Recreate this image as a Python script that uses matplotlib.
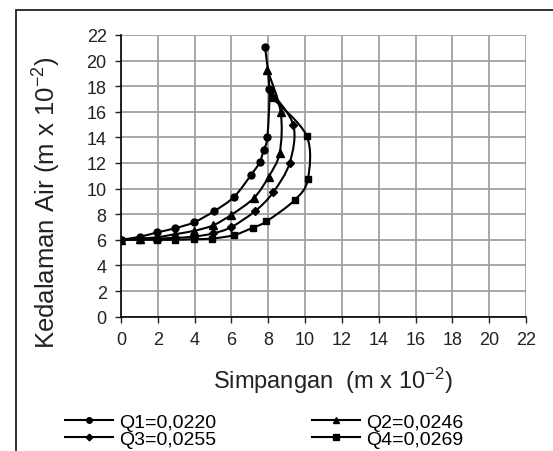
import matplotlib
matplotlib.use("Agg")
import matplotlib.pyplot as plt
from matplotlib.path import Path
from matplotlib.patches import PathPatch, Rectangle
from matplotlib.lines import Line2D
import numpy as np

plt.rcParams['font.family'] = ['Liberation Sans', 'DejaVu Sans']
plt.rcParams['mathtext.fontset'] = 'custom'
plt.rcParams['mathtext.rm'] = 'Liberation Sans'
plt.rcParams['mathtext.it'] = 'Liberation Sans:italic'

# simpangan (x) dan kedalaman air (y), m x 10^-2
q1_x = [0, 1.03, 1.97, 2.93, 3.97, 5.06, 6.14, 7.08, 7.53, 7.75, 7.95, 8.06, 7.82]
q1_y = [6.0, 6.24, 6.58, 6.90, 7.37, 8.24, 9.35, 11.1, 12.04, 13.0, 14.06, 17.8, 21.1]

q2_x = [0, 1.01, 1.97, 2.93, 3.97, 5.0, 6.0, 7.22, 8.02, 8.62, 8.67, 7.95]
q2_y = [6.0, 6.1, 6.2, 6.44, 6.7, 7.13, 7.96, 9.27, 10.93, 12.8, 16.0, 19.3]

q3_x = [0, 1.01, 1.97, 2.93, 3.97, 5.0, 6.0, 7.3, 8.26, 9.16, 9.36, 8.15]
q3_y = [6.0, 6.05, 6.1, 6.15, 6.25, 6.5, 7.0, 8.26, 9.7, 12.0, 14.97, 17.6]

q4_x = [0, 1.01, 1.97, 2.93, 3.97, 4.97, 6.14, 7.17, 7.9, 9.43, 10.15, 10.08, 8.24]
q4_y = [6.0, 6.0, 6.0, 6.0, 6.05, 6.1, 6.37, 6.95, 7.44, 9.1, 10.73, 14.13, 17.05]

labels = ['Q1=0,0220', 'Q2=0,0246', 'Q3=0,0255', 'Q4=0,0269']
series = [(q1_x, q1_y), (q2_x, q2_y), (q3_x, q3_y), (q4_x, q4_y)]
markers = ['o', '^', 'D', 's']
msizes = [5, 5.5, 4.2, 5]


def smooth_path(xs, ys):
    # garis halus ala Excel: Catmull-Rom -> kurva Bezier kubik
    p = np.column_stack([xs, ys]).astype(float)
    verts = [p[0]]
    codes = [Path.MOVETO]
    n = len(p)
    for i in range(n - 1):
        p0 = p[i - 1] if i > 0 else p[i]
        p1 = p[i]
        p2 = p[i + 1]
        p3 = p[i + 2] if i + 2 < n else p[i + 1]
        c1 = p1 + (p2 - p0) / 6.0
        c2 = p2 - (p3 - p1) / 6.0
        verts += [c1, c2, p2]
        codes += [Path.CURVE4] * 3
    return Path(verts, codes)


fig = plt.figure(figsize=(5.53, 4.52), dpi=100)
ax = fig.add_axes([0.2188, 0.2973, 0.7324, 0.6231])

for (xs, ys), m, ms in zip(series, markers, msizes):
    ax.add_patch(PathPatch(smooth_path(xs, ys), facecolor='none',
                           edgecolor='black', lw=1.5, zorder=3))
    ax.plot(xs, ys, linestyle='none', marker=m, ms=ms, color='black', zorder=4)

ax.set_xlim(0, 22)
ax.set_ylim(0, 22)
ax.set_xticks(np.arange(0, 23, 2))
ax.set_yticks(np.arange(0, 23, 2))
ax.grid(True, color='#a0a0a0', lw=1.3)
ax.set_axisbelow(True)
for s in ['top', 'right']:
    ax.spines[s].set_visible(False)
for s in ['left', 'bottom']:
    ax.spines[s].set_color('black')
    ax.spines[s].set_linewidth(1.2)
ax.tick_params(direction='out', length=4.3, width=1, labelsize=13,
               colors='#222222', pad=6)

fig.text(0.084, 0.552, r'Kedalaman Air (m x 10$^{\mathregular{-2}}$)', rotation=90,
         fontsize=18.5, ha='center', va='center', color='#222222')
fig.text(0.601, 0.139, r'Simpangan  (m x 10$^{\mathregular{-2}}$)',
         fontsize=17, ha='center', va='baseline', color='#222222')

handles = [Line2D([], [], color='black', lw=1.5, marker=m, ms=ms * 0.8)
           for m, ms in zip(markers, msizes)]
order = [0, 2, 1, 3]
fig.legend([handles[i] for i in order], [labels[i] for i in order],
           ncol=2, frameon=False, fontsize=14, loc='center',
           bbox_to_anchor=(0.478, 0.045), handlelength=2.45, handletextpad=0.35,
           columnspacing=4.9, labelspacing=0.0, borderpad=0)

# bingkai luar
fig.patches.append(Rectangle((16 / 553, -0.1), 1.2, 1 - 11 / 452 + 0.1,
                             transform=fig.transFigure, fill=False,
                             edgecolor='#222222', lw=1.3))

fig.savefig('out.png', dpi=100)
